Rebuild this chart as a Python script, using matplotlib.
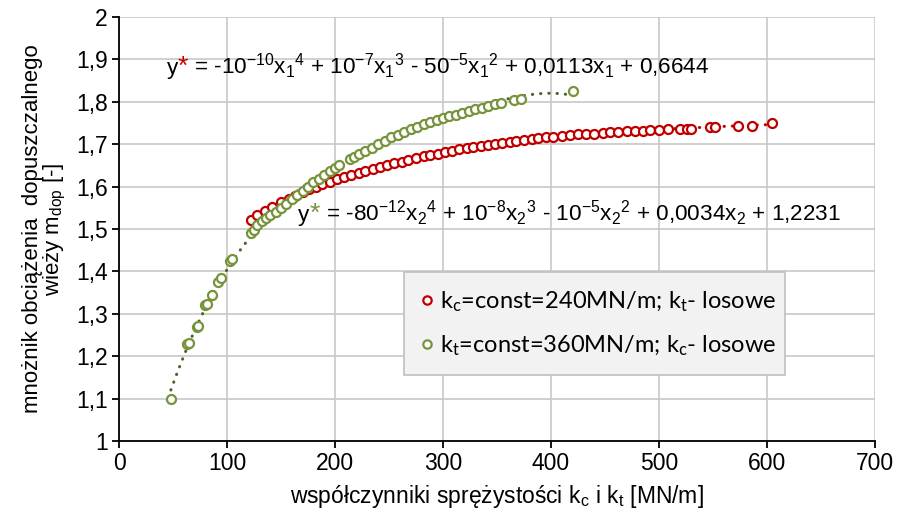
import numpy as np
import matplotlib
matplotlib.use("Agg")
import matplotlib.pyplot as plt
from matplotlib.lines import Line2D

# k_c = const = 240 MN/m, k_t random
red_x = [122, 128, 135, 142, 150, 157, 163, 170, 176, 182, 188, 195, 202, 208, 215, 222, 228,
         235, 242, 248, 255, 262, 268, 275, 282, 288, 295, 302, 308, 315, 322, 328, 335, 342,
         348, 355, 362, 368, 375, 382, 388, 395, 402, 410, 418, 425, 432, 440, 448, 455, 462,
         470, 478, 485, 492, 500, 508, 519, 526, 530, 547, 552, 573, 586, 605]
red_y = [1.521, 1.532, 1.542, 1.552, 1.563, 1.571, 1.578, 1.587, 1.594, 1.600, 1.606, 1.612,
         1.618, 1.622, 1.627, 1.632, 1.637, 1.642, 1.647, 1.651, 1.655, 1.659, 1.663, 1.667,
         1.671, 1.675, 1.678, 1.682, 1.685, 1.688, 1.691, 1.693, 1.696, 1.699, 1.701, 1.703,
         1.706, 1.708, 1.711, 1.713, 1.714, 1.716, 1.718, 1.720, 1.721, 1.723, 1.724, 1.725,
         1.727, 1.728, 1.729, 1.730, 1.731, 1.732, 1.733, 1.734, 1.735, 1.736, 1.737, 1.737,
         1.740, 1.741, 1.743, 1.744, 1.749]

# k_t = const = 360 MN/m, k_c random
green_x = [48, 63, 65, 72, 73, 80, 81, 86, 92, 94, 103, 105, 122, 125, 128, 132, 136, 140, 145,
           150, 155, 160, 165, 170, 175, 180, 185, 190, 195, 200, 204, 214, 218, 222, 228, 234,
           240, 246, 252, 258, 264, 270, 276, 282, 288, 294, 300, 306, 312, 318, 324, 330, 336,
           342, 348, 354, 366, 372, 420]
green_y = [1.100, 1.228, 1.232, 1.270, 1.272, 1.320, 1.322, 1.345, 1.376, 1.385, 1.425, 1.430,
           1.490, 1.497, 1.510, 1.518, 1.525, 1.532, 1.540, 1.550, 1.560, 1.570, 1.580, 1.590,
           1.600, 1.610, 1.618, 1.627, 1.636, 1.645, 1.652, 1.665, 1.670, 1.676, 1.684, 1.692,
           1.700, 1.708, 1.716, 1.722, 1.729, 1.735, 1.741, 1.747, 1.752, 1.757, 1.762, 1.766,
           1.770, 1.774, 1.778, 1.782, 1.786, 1.790, 1.794, 1.797, 1.804, 1.806, 1.825]

red_label = "k$_{c}$=const=240MN/m; k$_{t}$- losowe"
green_label = "k$_{t}$=const=360MN/m; k$_{c}$- losowe"

RED = "#C00000"
GREEN = "#77933C"
DGREEN = "#4F6228"

plt.rcParams['font.family'] = 'Liberation Sans'
plt.rcParams['mathtext.fontset'] = 'custom'
plt.rcParams['mathtext.rm'] = 'Liberation Sans'
plt.rcParams['mathtext.default'] = 'regular'

fig = plt.figure(figsize=(8.99, 5.15), dpi=100)
ax = fig.add_axes([0.1324, 0.1437, 0.8409, 0.8233])

# trend lines (4th order polynomial like Excel)
for xs, ys, col in [(red_x, red_y, RED), (green_x, green_y, DGREEN)]:
    p = np.polyfit(xs, ys, 4)
    xx = np.linspace(min(xs), max(xs), 300)
    ax.plot(xx, np.polyval(p, xx), color=col, lw=2.2, linestyle=(0, (0.1, 2.6)),
            dash_capstyle='round', zorder=2)

ax.plot(red_x, red_y, 'o', ms=6.5, mfc='white', mec=RED, mew=1.6, zorder=3)
ax.plot(green_x, green_y, 'o', ms=6.5, mfc='white', mec=GREEN, mew=1.6, zorder=3)

ax.set_xlim(0, 700)
ax.set_ylim(1, 2)
ax.set_xticks(np.arange(0, 701, 100))
ax.set_yticks(np.arange(1, 2.01, 0.1))
ax.set_yticklabels(["1", "1,1", "1,2", "1,3", "1,4", "1,5", "1,6", "1,7", "1,8", "1,9", "2"])
ax.grid(True, color='#C8C8C8', lw=1.2)
ax.set_axisbelow(True)
for s in ['top', 'right']:
    ax.spines[s].set_visible(False)
for s in ['left', 'bottom']:
    ax.spines[s].set_linewidth(1.3)
ax.tick_params(direction='out', length=5, width=1.3, labelsize=16.5, pad=3)

ax.set_xlabel("współczynniki sprężystości k$_{c}$ i k$_{t}$ [MN/m]", fontsize=16.5, labelpad=6)
ax.set_ylabel("mnożnik obciążenia  dopuszczalnego\nwieży m$_{dop}$ [-]", fontsize=16,
              labelpad=6, linespacing=0.95)

# equations with coloured asterisk
def equation(x, y, star_col, rest):
    t = ax.text(x, y, "y", fontsize=16.2, va='baseline', ha='left')
    s = ax.annotate("*", xy=(1, y), xycoords=(t, 'data'), fontsize=19, color=star_col,
                    va='baseline', ha='left')
    ax.annotate(rest, xy=(1, y), xycoords=(s, 'data'), fontsize=16.2, va='baseline', ha='left')

equation(44, 1.865, RED,
         " = -10$^{-10}$x$_{1}$$^{4}$ + 10$^{-7}$x$_{1}$$^{3}$ - 50$^{-5}$x$_{1}$$^{2}$"
         " + 0,0113x$_{1}$ + 0,6644")
equation(166, 1.52, GREEN,
         " = -80$^{-12}$x$_{2}$$^{4}$ + 10$^{-8}$x$_{2}$$^{3}$ - 10$^{-5}$x$_{2}$$^{2}$"
         " + 0,0034x$_{2}$ + 1,2231")

handles = [Line2D([], [], ls='none', marker='o', ms=6, mfc='white', mec=RED, mew=1.6),
           Line2D([], [], ls='none', marker='o', ms=6, mfc='white', mec=GREEN, mew=1.6)]
leg = ax.legend(handles, [red_label, green_label], loc='lower left',
                bbox_to_anchor=(0.377, 0.156, 0.504, 0.245), mode='expand',
                prop=dict(family='Lato', size=17), fancybox=False, framealpha=1,
                facecolor='#F2F2F2', edgecolor='#BFBFBF', handletextpad=0.3,
                handlelength=0.5, borderpad=0.72, borderaxespad=0, labelspacing=0.85)
leg.get_frame().set_linewidth(1.2)

fig.savefig("out.png", dpi=100)
